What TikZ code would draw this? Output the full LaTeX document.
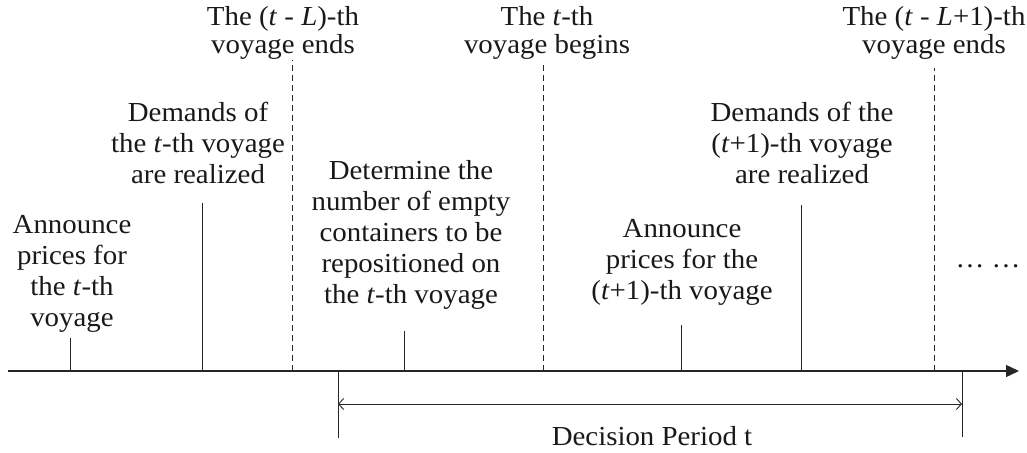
\documentclass[tikz,border=0pt]{standalone}
\usepackage{fontspec}
\setmainfont{Liberation Serif}[FakeStretch=1.05]
\usetikzlibrary{arrows.meta}

\begin{document}
\begin{tikzpicture}[x=1pt, y=-1pt,
    event/.style={align=center, inner sep=0pt, text=black!90, font=\fontsize{27.5}{31}\selectfont},
    topevent/.style={event, font=\fontsize{27.5}{28}\selectfont},
    stem/.style={line width=0.9pt, black!85},
    dashstem/.style={stem, dash pattern=on 6pt off 4pt},
    axis/.style={line width=1.4pt, black!85, -{Triangle[length=13pt, width=12pt]}},
    period/.style={line width=0.9pt, black!85, {Straight Barb[length=5pt, width=11pt]}-{Straight Barb[length=5pt, width=11pt]}}]
    \useasboundingbox (0,0) rectangle (1027,452);

    % time axis
    \coordinate (start) at (8,371);
    \coordinate (stop) at (1019,371);
    \draw [axis] (start) -- (stop);

    % events on the axis
    \coordinate (a1) at (70,371);
    \coordinate (a2) at (202,371);
    \coordinate (d1) at (292,371);
    \coordinate (a3) at (404,371);
    \coordinate (d2) at (543,371);
    \coordinate (a4) at (681,371);
    \coordinate (a5) at (801,371);
    \coordinate (d3) at (934,371);
    \draw [stem] (a1) -- ++(0,-33);
    \draw [stem] (a2) -- ++(0,-168);
    \draw [dashstem] (d1) -- ++(0,-311);
    \draw [stem] (a3) -- ++(0,-40);
    \draw [dashstem] (d2) -- ++(0,-308);
    \draw [stem] (a4) -- ++(0,-46);
    \draw [stem] (a5) -- ++(0,-166);
    \draw [dashstem] (d3) -- ++(0,-303);

    \node [event] (annA) at (72,274) {Announce\\prices for\\the \textit{t}-th\\voyage};
    \node [event] (demA) at (198,143) {Demands of\\the \textit{t}-th voyage\\are realized};
    \node [topevent] (endA) at (283,32.5) {The (\textit{t} - \textit{L})-th\\voyage ends};
    \node [event] (detm) at (411,235) {Determine the\\number of empty\\containers to be\\repositioned on\\the \textit{t}-th voyage};
    \node [topevent] (begT) at (547,33) {The \textit{t}-th\\voyage begins};
    \node [event] (annB) at (682,262) {Announce\\prices for the\\(\textit{t}+1)-th voyage};
    \node [event] (demB) at (802,143) {Demands of the\\(\textit{t}+1)-th voyage\\are realized};
    \node [topevent] (endB) at (934,32.5) {The (\textit{t} - \textit{L}+1)-th\\voyage ends};
    \node [event, anchor=base] (more) at (988,267) {… …};

    % decision period
    \coordinate (pS) at (338,371);
    \coordinate (pE) at (962,371);
    \draw [stem] (pS) -- ++(0,67);
    \draw [stem] (pE) -- ++(0,66);
    \coordinate (qS) at (338,404);
    \coordinate (qE) at (962,404);
    \draw [period] (qS) -- (qE);
    \node [event, anchor=base] (dec) at (652,445) {Decision Period t};
\end{tikzpicture}
\end{document}
